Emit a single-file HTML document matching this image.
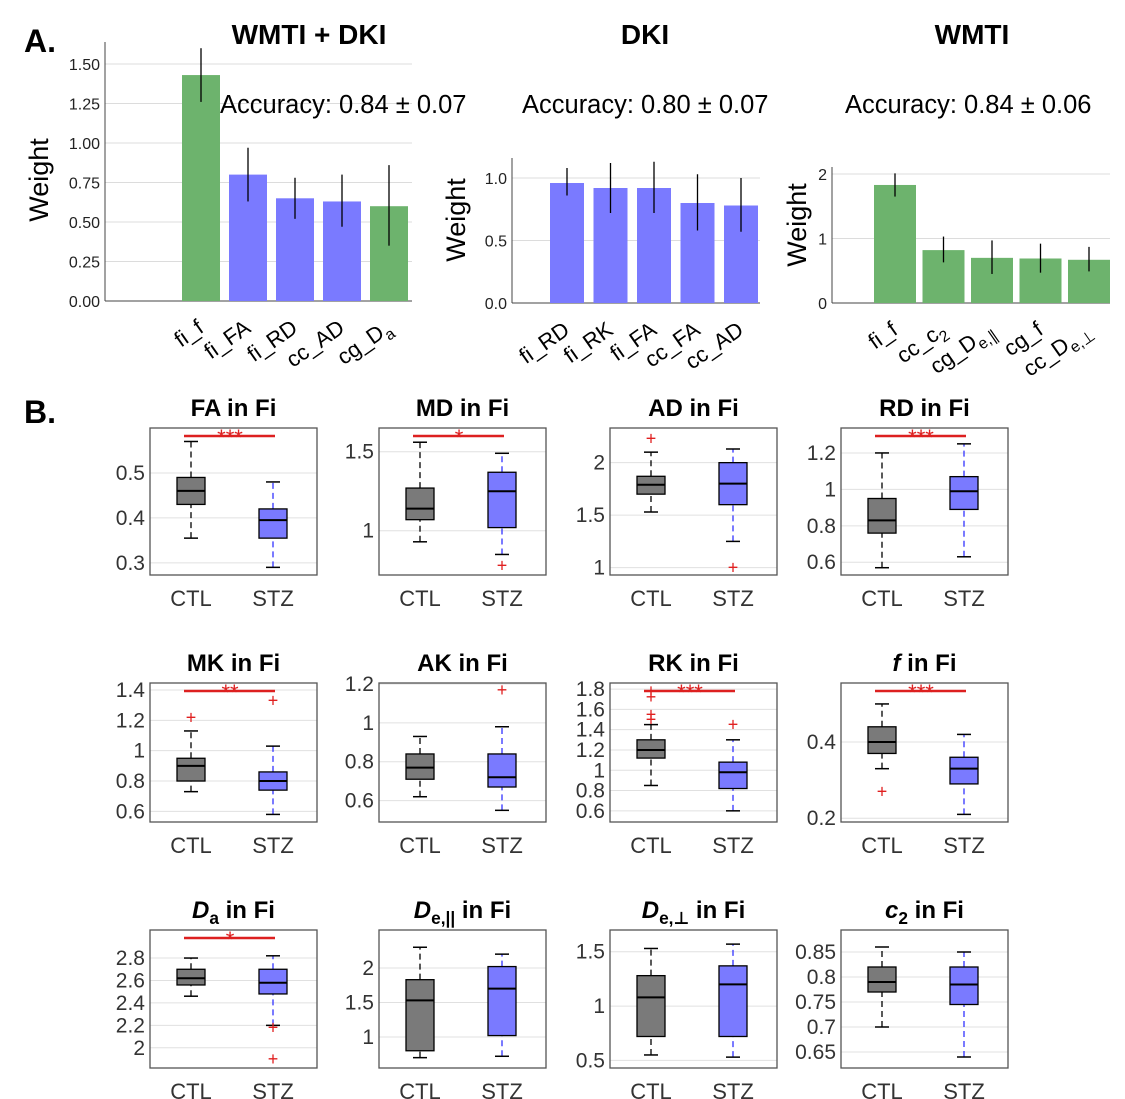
<!DOCTYPE html>
<html><head><meta charset="utf-8">
<style>
html,body{margin:0;padding:0;background:#fff;}
svg{display:block;font-family:"Liberation Sans","DejaVu Sans",sans-serif;}
</style></head>
<body>
<svg id="fig" width="1125" height="1099" viewBox="0 0 1125 1099" xmlns="http://www.w3.org/2000/svg">
<text x="24" y="52" font-size="32" font-weight="bold">A.</text>
<text x="24" y="423" font-size="32" font-weight="bold">B.</text>
</svg>
<script>
// ---------- Panel A data ----------
const barTitles = ["WMTI + DKI", "DKI", "WMTI"];
const barAccuracy = ["Accuracy: 0.84 ± 0.07", "Accuracy: 0.80 ± 0.07", "Accuracy: 0.84 ± 0.06"];
const cats1 = ["", "fi_f", "fi_FA", "fi_RD", "cc_AD", "cg_D~a"];
const vals1 = [null, 1.43, 0.80, 0.65, 0.63, 0.60];
const errLo1 = [null, 1.26, 0.63, 0.52, 0.47, 0.35];
const errHi1 = [null, 1.60, 0.97, 0.78, 0.80, 0.86];
const cols1 = ["", "g", "b", "b", "b", "g"];
const ticks1 = [0, 0.25, 0.5, 0.75, 1.0, 1.25, 1.5];
const tickLab1 = ["0.00", "0.25", "0.50", "0.75", "1.00", "1.25", "1.50"];
const cats2 = ["fi_RD", "fi_RK", "fi_FA", "cc_FA", "cc_AD"];
const vals2 = [0.96, 0.92, 0.92, 0.80, 0.78];
const errLo2 = [0.86, 0.72, 0.72, 0.58, 0.57];
const errHi2 = [1.08, 1.12, 1.13, 1.03, 1.00];
const ticks2 = [0, 0.5, 1.0];
const tickLab2 = ["0.0", "0.5", "1.0"];
const cats3 = ["fi_f", "cc_c~2", "cg_D~e,∥", "cg_f", "cc_D~e,⊥"];
const vals3 = [1.83, 0.82, 0.70, 0.69, 0.67];
const errLo3 = [1.65, 0.63, 0.45, 0.47, 0.49];
const errHi3 = [2.01, 1.03, 0.97, 0.92, 0.87];
const ticks3 = [0, 1, 2];
const tickLab3 = ["0", "1", "2"];

// ---------- Panel B data ----------
// title parts: main~subscript~rest
const boxTitles = ["FA~~in Fi","MD~~in Fi","AD~~in Fi","RD~~in Fi","MK~~in Fi","AK~~in Fi","RK~~in Fi","f~~in Fi","D~a~in Fi","D~e,||~in Fi","D~e,⊥~in Fi","c~2~in Fi"];
const titleItalic = [false,false,false,false,false,false,false,true,true,true,true,true];
// [whiskerLo, q1, median, q3, whiskerHi]
const ctlStats = [[0.355,0.43,0.46,0.49,0.57],[0.93,1.07,1.14,1.27,1.56],[1.53,1.7,1.79,1.87,2.1],[0.57,0.76,0.83,0.95,1.2],
 [0.73,0.8,0.9,0.95,1.13],[0.62,0.71,0.77,0.84,0.93],[0.85,1.12,1.2,1.3,1.45],[0.33,0.37,0.40,0.44,0.5],
 [2.46,2.56,2.62,2.7,2.8],[0.7,0.8,1.53,1.83,2.3],[0.55,0.72,1.08,1.28,1.53],[0.7,0.77,0.79,0.82,0.86]];
const stzStats = [[0.29,0.355,0.395,0.42,0.48],[0.85,1.02,1.25,1.37,1.49],[1.25,1.6,1.8,2.0,2.13],[0.63,0.89,0.99,1.07,1.25],
 [0.58,0.74,0.8,0.86,1.03],[0.55,0.67,0.72,0.84,0.98],[0.6,0.82,0.98,1.08,1.3],[0.21,0.29,0.33,0.36,0.42],
 [2.2,2.48,2.58,2.7,2.82],[0.72,1.02,1.7,2.02,2.2],[0.53,0.72,1.2,1.37,1.57],[0.64,0.745,0.785,0.82,0.85]];
const ctlOut = [[],[],[2.23],[],[1.22],[],[1.5,1.55,1.72,1.78],[0.27],[],[],[],[]];
const stzOut = [[],[0.78],[1.0],[],[1.33],[1.17],[1.45],[],[2.18,1.9],[],[],[]];
const yMin = [0.273,0.72,0.93,0.53,0.53,0.49,0.49,0.19,1.82,0.55,0.43,0.618];
const yMax = [0.6,1.65,2.33,1.337,1.446,1.205,1.86,0.555,3.05,2.55,1.7,0.894];
const boxTicks = [[0.3,0.4,0.5],[1,1.5],[1,1.5,2],[0.6,0.8,1,1.2],[0.6,0.8,1,1.2,1.4],[0.6,0.8,1,1.2],[0.6,0.8,1,1.2,1.4,1.6,1.8],[0.2,0.4],
 [2,2.2,2.4,2.6,2.8],[1,1.5,2],[0.5,1,1.5],[0.65,0.7,0.75,0.8,0.85]];
const boxTickLab = [["0.3","0.4","0.5"],["1","1.5"],["1","1.5","2"],["0.6","0.8","1","1.2"],["0.6","0.8","1","1.2","1.4"],["0.6","0.8","1","1.2"],["0.6","0.8","1","1.2","1.4","1.6","1.8"],["0.2","0.4"],
 ["2","2.2","2.4","2.6","2.8"],["1","1.5","2"],["0.5","1","1.5"],["0.65","0.7","0.75","0.8","0.85"]];
const sigStars = ["***","*","","***","**","","***","***","*","","",""];

const svg = document.getElementById('fig');
const NS = "http://www.w3.org/2000/svg";
function mk(tag, attrs, parent) {
  const e = document.createElementNS(NS, tag);
  for (const k in attrs) e.setAttribute(k, attrs[k]);
  (parent || svg).appendChild(e);
  return e;
}
function addSubText(t, str, italicMain) {
  const parts = str.split('~');
  const a = mk('tspan', {}, t); a.textContent = parts[0];
  if (italicMain) a.setAttribute('font-style', 'italic');
  if (parts.length > 1 && parts[1]) {
    const b = mk('tspan', {'font-size': '0.72em', dy: 6}, t); b.textContent = parts[1];
    const c = mk('tspan', {dy: -6}, t); c.textContent = parts.length > 2 ? ' ' + parts[2].trim() : '';
  } else if (parts.length > 2) {
    const c = mk('tspan', {}, t); c.textContent = ' ' + parts[2].trim();
  }
}
const GREEN = "#6db36d", BLUE = "#7a7aff", GRAY = "#7a7a7a";

// ---------- Bar charts ----------
const barLayouts = [
  {left:105, right:412, bottom:301, top:42, pxPer:158, slot0:154, step:47, bw:38, titleX:309, accX:220, ylabX:48, ylabY:180, cats:cats1, vals:vals1, lo:errLo1, hi:errHi1, ticks:ticks1, tl:tickLab1},
  {left:512, right:760, bottom:303, top:158, pxPer:125, slot0:567, step:43.5, bw:34, titleX:645, accX:522, ylabX:465, ylabY:220, cats:cats2, vals:vals2, lo:errLo2, hi:errHi2, ticks:ticks2, tl:tickLab2},
  {left:832, right:1110, bottom:303, top:167, pxPer:64.5, slot0:895, step:48.5, bw:42, titleX:972, accX:845, ylabX:806, ylabY:225, cats:cats3, vals:vals3, lo:errLo3, hi:errHi3, ticks:ticks3, tl:tickLab3}
];
barLayouts.forEach((L, i) => {
  const g = mk('g', {});
  
  
  const y = v => L.bottom - v * L.pxPer;
  const t = mk('text', {x: L.titleX, y: 44, 'font-size': 28, 'font-weight': 'bold', 'text-anchor': 'middle'}, g);
  t.textContent = barTitles[i];
  
  
  L.ticks.forEach((tv, k) => {
    mk('line', {x1: L.left, x2: L.right, y1: y(tv), y2: y(tv), stroke: '#dcdcdc', 'stroke-width': 1}, g);
    const tt = mk('text', {x: L.left - 5, y: y(tv) + 6, 'font-size': 16, 'text-anchor': 'end', fill: '#222'}, g);
    tt.textContent = L.tl[k];
    
    
  });
  mk('line', {x1: L.left, x2: L.left, y1: L.top, y2: L.bottom, stroke: '#444'}, g);
  mk('line', {x1: L.left, x2: L.right, y1: L.bottom, y2: L.bottom, stroke: '#444'}, g);
  L.cats.forEach((c, k) => {
    const cx = L.slot0 + k * L.step;
    if (L.vals[k] !== null) {
      const col = i === 1 ? BLUE : (i === 2 ? GREEN : (cols1[k] === 'g' ? GREEN : BLUE));
      const r = mk('rect', {x: cx - L.bw / 2, y: y(L.vals[k]), width: L.bw, height: L.bottom - y(L.vals[k]), fill: col}, g);
      
      
      mk('line', {x1: cx, x2: cx, y1: y(L.lo[k]), y2: y(L.hi[k]), stroke: '#000', 'stroke-width': 1.3}, g);
    }
    if (c) {
      const lx = cx + 4, ly = L.bottom + 30;
      const lt = mk('text', {x: lx, y: ly, 'font-size': 22, 'text-anchor': 'end', transform: `rotate(-35 ${lx} ${ly})`}, g);
      addSubText(lt, c, false);
      
      
    }
  });
  const a = mk('text', {x: L.accX, y: 113, 'font-size': 25.5}, g);
  a.textContent = barAccuracy[i];
  
  
  const yl = mk('text', {x: L.ylabX, y: L.ylabY, 'font-size': 27, 'text-anchor': 'middle', transform: `rotate(-90 ${L.ylabX} ${L.ylabY})`}, g);
  yl.textContent = "Weight";
  
  
});

// ---------- Box plots ----------
const colLeft = [150, 379, 610, 841];
const rowTop = [428, 683, 930];
const rowBottom = [575, 822, 1068];
const plotW = 167;
boxTitles.forEach((title, i) => {
  const r = Math.floor(i / 4), c = i % 4;
  const L = colLeft[c], T = rowTop[r], B = rowBottom[r], R = L + plotW;
  const g = mk('g', {});
  
  
  const y = v => B - (v - yMin[i]) / (yMax[i] - yMin[i]) * (B - T);
  boxTicks[i].forEach((tv, k) => {
    mk('line', {x1: L, x2: R, y1: y(tv), y2: y(tv), stroke: '#e0e0e0'}, g);
    const tt = mk('text', {x: L - 5, y: y(tv) + 7, 'font-size': 21, 'text-anchor': 'end', fill: '#333'}, g);
    tt.textContent = boxTickLab[i][k];
    
    
  });
  mk('rect', {x: L, y: T, width: plotW, height: B - T, fill: 'none', stroke: '#555', 'stroke-width': 1.3}, g);
  const tt = mk('text', {x: L + plotW / 2, y: T - 12, 'font-size': 24, 'font-weight': 'bold', 'text-anchor': 'middle'}, g);
  addSubText(tt, title, titleItalic[i]);
  
  
  [[ctlStats[i], ctlOut[i], L + 41, GRAY, '#000', 'CTL'], [stzStats[i], stzOut[i], L + 123, BLUE, '#3333ff', 'STZ']].forEach(([s, outs, cx, fill, wcol, lab]) => {
    mk('line', {x1: cx, x2: cx, y1: y(s[0]), y2: y(s[1]), stroke: wcol, 'stroke-dasharray': '6,4', 'stroke-width': 1.3}, g);
    mk('line', {x1: cx, x2: cx, y1: y(s[3]), y2: y(s[4]), stroke: wcol, 'stroke-dasharray': '6,4', 'stroke-width': 1.3}, g);
    mk('line', {x1: cx - 7, x2: cx + 7, y1: y(s[0]), y2: y(s[0]), stroke: '#000', 'stroke-width': 1.5}, g);
    mk('line', {x1: cx - 7, x2: cx + 7, y1: y(s[4]), y2: y(s[4]), stroke: '#000', 'stroke-width': 1.5}, g);
    const bx = mk('rect', {x: cx - 14, y: y(s[3]), width: 28, height: y(s[1]) - y(s[3]), fill: fill, stroke: '#000', 'stroke-width': 1.3}, g);
    
    
    mk('line', {x1: cx - 14, x2: cx + 14, y1: y(s[2]), y2: y(s[2]), stroke: '#000', 'stroke-width': 2}, g);
    outs.forEach(o => {
      const p = mk('text', {x: cx, y: y(o) + 6, 'font-size': 18, fill: '#e02020', 'text-anchor': 'middle'}, g);
      p.textContent = '+';
      
      
    });
    const xl = mk('text', {x: cx, y: B + 31, 'font-size': 22, 'text-anchor': 'middle', fill: '#333'}, g);
    xl.textContent = lab;
    
    
  });
  if (sigStars[i]) {
    mk('line', {x1: L + 34, x2: L + 125, y1: T + 8, y2: T + 8, stroke: '#dd2020', 'stroke-width': 2.5}, g);
    const st = mk('text', {x: L + 80, y: T + 17, 'font-size': 22, fill: '#dd2020', 'text-anchor': 'middle'}, g);
    st.textContent = sigStars[i];
    
    
  }
});
</script>
</body></html>
